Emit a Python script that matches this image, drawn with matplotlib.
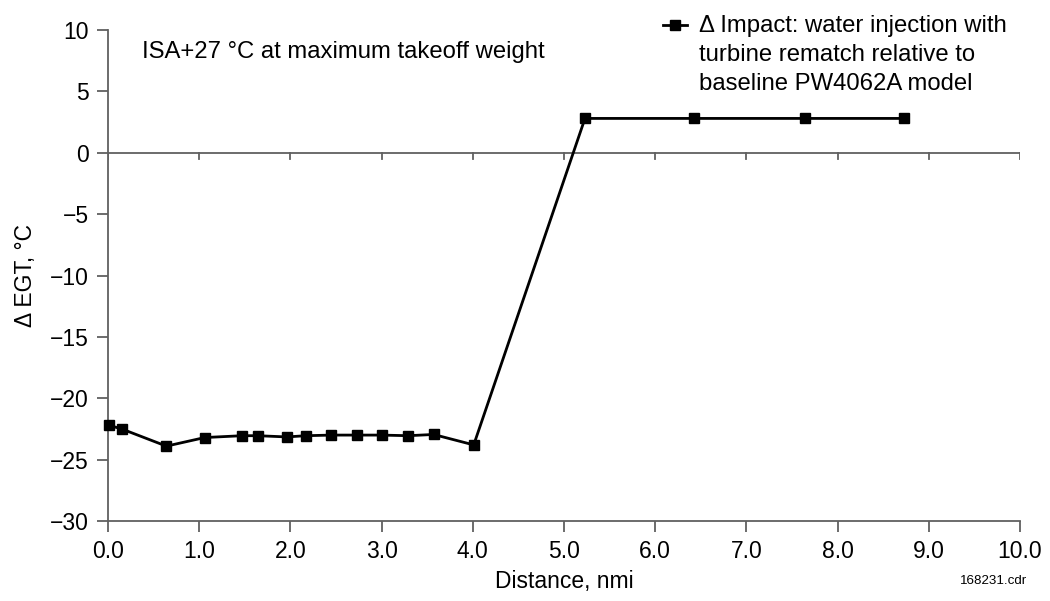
import matplotlib.pyplot as plt

plt.rcParams['font.family'] = ['Liberation Sans', 'DejaVu Sans']

distance = [0.01, 0.15, 0.64, 1.06, 1.47, 1.64, 1.96, 2.17, 2.45, 2.73, 3.0, 3.29, 3.57,
            4.01, 5.23, 6.43, 7.64, 8.73]
delta_egt = [-22.2, -22.5, -23.9, -23.2, -23.05, -23.05, -23.15, -23.05, -23.0, -23.0,
             -23.0, -23.05, -22.95, -23.8, 2.8, 2.8, 2.8, 2.8]

xticks = [0, 1, 2, 3, 4, 5, 6, 7, 8, 9, 10]
yticks = [10, 5, 0, -5, -10, -15, -20, -25, -30]

series_label = '\u0394 Impact: water injection with\nturbine rematch relative to\nbaseline PW4062A model'

axis_grey = '#606060'

fig = plt.figure(figsize=(10.5, 6.01), dpi=100)
ax = fig.add_axes([0.1029, 0.1331, 0.8685, 0.8169])

ax.plot(distance, delta_egt, color='black', linewidth=2, marker='s', markersize=6.5,
        clip_on=False, zorder=3)

# zero line with its own downward ticks
ax.axhline(0, color=axis_grey, linewidth=1.3, zorder=1)
for xt in xticks:
    ax.plot([xt, xt], [0, -0.5], color=axis_grey, linewidth=1.3, zorder=1)

ax.set_xlim(0, 10)
ax.set_ylim(-30, 10)
ax.set_xticks(xticks)
ax.set_xticklabels([f'{v:.1f}' for v in xticks])
ax.set_yticks(yticks)
ax.set_yticklabels([str(v).replace('-', '\u2212') for v in yticks])

for side in ['top', 'right']:
    ax.spines[side].set_visible(False)
for side in ['left', 'bottom']:
    ax.spines[side].set_color(axis_grey)
    ax.spines[side].set_linewidth(1.3)
ax.tick_params(colors=axis_grey, labelcolor='black', labelsize=16.5, width=1.3, length=8,
               direction='out', pad=6)

ax.set_xlabel('Distance, nmi', fontsize=16.5, labelpad=5)
ax.set_ylabel('\u0394 EGT, \u00b0C', fontsize=16.5, labelpad=9)

ax.text(0.37, 8.2, 'ISA+27 \u00b0C at maximum takeoff weight', fontsize=17.2, va='center')

# legend key: short line with a square marker beside the first line of the label
ax.plot([6.09, 6.35], [10.41, 10.41], color='black', linewidth=2, clip_on=False)
ax.plot([6.22], [10.41], color='black', marker='s', markersize=6.5, clip_on=False)
ax.text(6.48, 7.95, series_label, fontsize=17.2, va='center', ha='left', linespacing=1.4)

fig.text(0.978, 0.023, '168231.cdr', fontsize=9.6, ha='right', va='bottom')

fig.savefig('out.png', dpi=100, facecolor='white')
